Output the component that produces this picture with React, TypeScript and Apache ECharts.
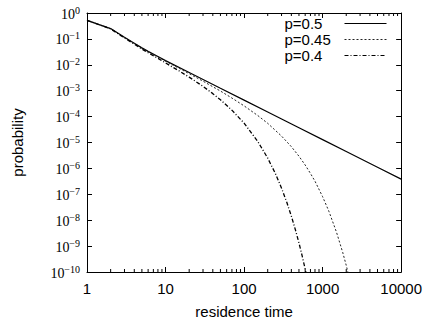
import React, { useEffect, useRef } from 'react';
import * as echarts from 'echarts';

const seriesNames = ['p=0.5', 'p=0.45', 'p=0.4'];

const t50 = [1, 2, 3, 4, 5, 6, 8, 10, 20, 50, 100, 200, 500, 1000, 2000, 5000, 10000];
const p50 = [0.52, 0.25, 0.115, 0.068, 0.045, 0.033, 0.021, 0.0145, 5.04e-3, 1.24e-3, 4.33e-4, 1.5e-4, 3.72e-5, 1.29e-5, 4.49e-6, 1.11e-6, 3.85e-7];

const t45 = [1, 2, 3, 4, 5, 6, 8, 10, 15, 20, 30, 50, 70, 100, 150, 200, 300, 400, 500, 600, 700, 800, 1000, 1200, 1500, 1800, 2000, 2200];
const p45 = [0.52, 0.249, 0.1135, 0.0674, 0.0445, 0.032, 0.0201, 0.0138, 7.2e-3, 4.55e-3, 2.33e-3, 9.7e-4, 5.2e-4, 2.6e-4, 1.09e-4, 5.5e-5, 1.77e-5, 6.9e-6, 2.95e-6, 1.35e-6, 6.4e-7, 3.2e-7, 8.1e-8, 2.24e-8, 3.5e-9, 5.8e-10, 1.8e-10, 5.6e-11];

const t40 = [1, 2, 3, 4, 5, 6, 8, 10, 15, 20, 30, 40, 50, 70, 100, 150, 200, 250, 300, 350, 400, 450, 500, 550, 600, 650];
const p40 = [0.52, 0.245, 0.108, 0.0626, 0.0405, 0.0292, 0.0178, 0.0118, 5.73e-3, 3.34e-3, 1.47e-3, 7.7e-4, 4.47e-4, 1.77e-4, 5.6e-5, 1.08e-5, 2.5e-6, 6.4e-7, 1.73e-7, 4.9e-8, 1.44e-8, 4.3e-9, 1.32e-9, 4.1e-10, 1.29e-10, 4.1e-11];

const xMin = 1;
const xMax = 10000;
const yMin = 1e-10;
const yMax = 1;

const minorX = [2, 3, 4, 5, 6, 7, 8, 9, 20, 30, 40, 50, 60, 70, 80, 90, 200, 300, 400, 500, 600, 700, 800, 900, 2000, 3000, 4000, 5000, 6000, 7000, 8000, 9000];

const sans = 'Liberation Sans';
const serif = 'Liberation Serif';

export default function App() {
  const ref = useRef<HTMLDivElement>(null);
  useEffect(() => {
    document.body.style.margin = '0';
    const chart = echarts.init(ref.current as HTMLDivElement, null, { renderer: 'svg' });
    const axisLine = { show: true, onZero: false, lineStyle: { color: '#000', width: 1 } };
    const tick = { show: true, inside: true, length: 5, lineStyle: { color: '#000', width: 1 } };
    const mk = (ts: number[], ps: number[]) => ts.map((t, i) => [t, ps[i]]);
    chart.setOption({
      animation: false,
      backgroundColor: '#fff',
      grid: { left: 87, top: 13, right: 21, bottom: 54 },
      legend: {
        data: seriesNames.map((n) => ({ name: n })),
        orient: 'vertical',
        right: 33,
        top: 11,
        align: 'right',
        itemWidth: 42,
        itemHeight: 10,
        itemGap: 1,
        itemStyle: { opacity: 0 },
        lineStyle: { width: 1 },
        formatter: (n: string) => `{a|${n}}`,
        textStyle: {
          rich: { a: { width: 55, align: 'left', fontSize: 15, lineHeight: 14, fontFamily: sans, color: '#000' } },
        },
      },
      xAxis: [
        {
          type: 'log', logBase: 10, min: xMin, max: xMax, interval: 1, splitNumber: 4, position: 'bottom',
          axisLine, axisTick: tick, splitLine: { show: false },
          axisLabel: { color: '#000', fontFamily: sans, fontSize: 15, margin: 9, formatter: (v: number) => String(Math.round(v)) },
          name: 'residence time', nameLocation: 'middle', nameGap: 32,
          nameTextStyle: { color: '#000', fontFamily: sans, fontSize: 15 },
        },
        {
          type: 'log', logBase: 10, min: xMin, max: xMax, interval: 1, splitNumber: 4, position: 'top',
          axisLine, axisTick: tick, splitLine: { show: false }, axisLabel: { show: false },
        },
      ],
      yAxis: [
        {
          type: 'log', logBase: 10, min: yMin, max: yMax, interval: 1, splitNumber: 10, position: 'left',
          axisLine, axisTick: tick, splitLine: { show: false },
          axisLabel: {
            margin: 7,
            formatter: (v: number) => {
              const e = Math.round(Math.log10(v));
              const s = e < 0 ? '\u2212' + -e : String(e);
              return `{b|10}{s|${s}}`;
            },
            rich: {
              b: { fontFamily: serif, fontSize: 14, lineHeight: 16, color: '#000', verticalAlign: 'bottom' },
              s: { fontFamily: serif, fontSize: 10, lineHeight: 10, color: '#000', verticalAlign: 'top' },
            },
          },
          name: 'probability', nameLocation: 'middle', nameGap: 62,
          nameTextStyle: { color: '#000', fontFamily: sans, fontSize: 15 },
        },
        {
          type: 'log', logBase: 10, min: yMin, max: yMax, interval: 1, splitNumber: 10, position: 'right',
          axisLine, axisTick: tick, splitLine: { show: false }, axisLabel: { show: false },
        },
      ],
      series: [
        {
          name: seriesNames[0], type: 'line', data: mk(t50, p50), symbol: 'none', clip: true,
          lineStyle: { color: '#000', width: 1.2, type: 'solid' }, itemStyle: { color: '#000' },
        },
        {
          name: seriesNames[1], type: 'line', data: mk(t45, p45), symbol: 'none', clip: true,
          lineStyle: { color: '#222', width: 1, type: [2, 2] }, itemStyle: { color: '#222' },
        },
        {
          name: seriesNames[2], type: 'line', data: mk(t40, p40), symbol: 'none', clip: true,
          lineStyle: { color: '#000', width: 1.3, type: [4, 2, 1, 2] }, itemStyle: { color: '#000' },
        },
        {
          type: 'custom', silent: true, z: 5, xAxisIndex: 0, yAxisIndex: 0,
          data: minorX.map((v) => [v, yMin]),
          encode: { x: 0, y: 1 },
          renderItem: (_p: any, api: any) => {
            const x = api.value(0);
            const b = api.coord([x, yMin]);
            const t = api.coord([x, yMax]);
            return {
              type: 'group',
              children: [
                { type: 'line', shape: { x1: b[0], y1: b[1], x2: b[0], y2: b[1] - 3 }, style: { stroke: '#000', lineWidth: 1 } },
                { type: 'line', shape: { x1: t[0], y1: t[1], x2: t[0], y2: t[1] + 3 }, style: { stroke: '#000', lineWidth: 1 } },
              ],
            };
          },
        },
      ],
    });
    return () => chart.dispose();
  }, []);
  return <div ref={ref} style={{ width: 425, height: 326 }} />;
}
